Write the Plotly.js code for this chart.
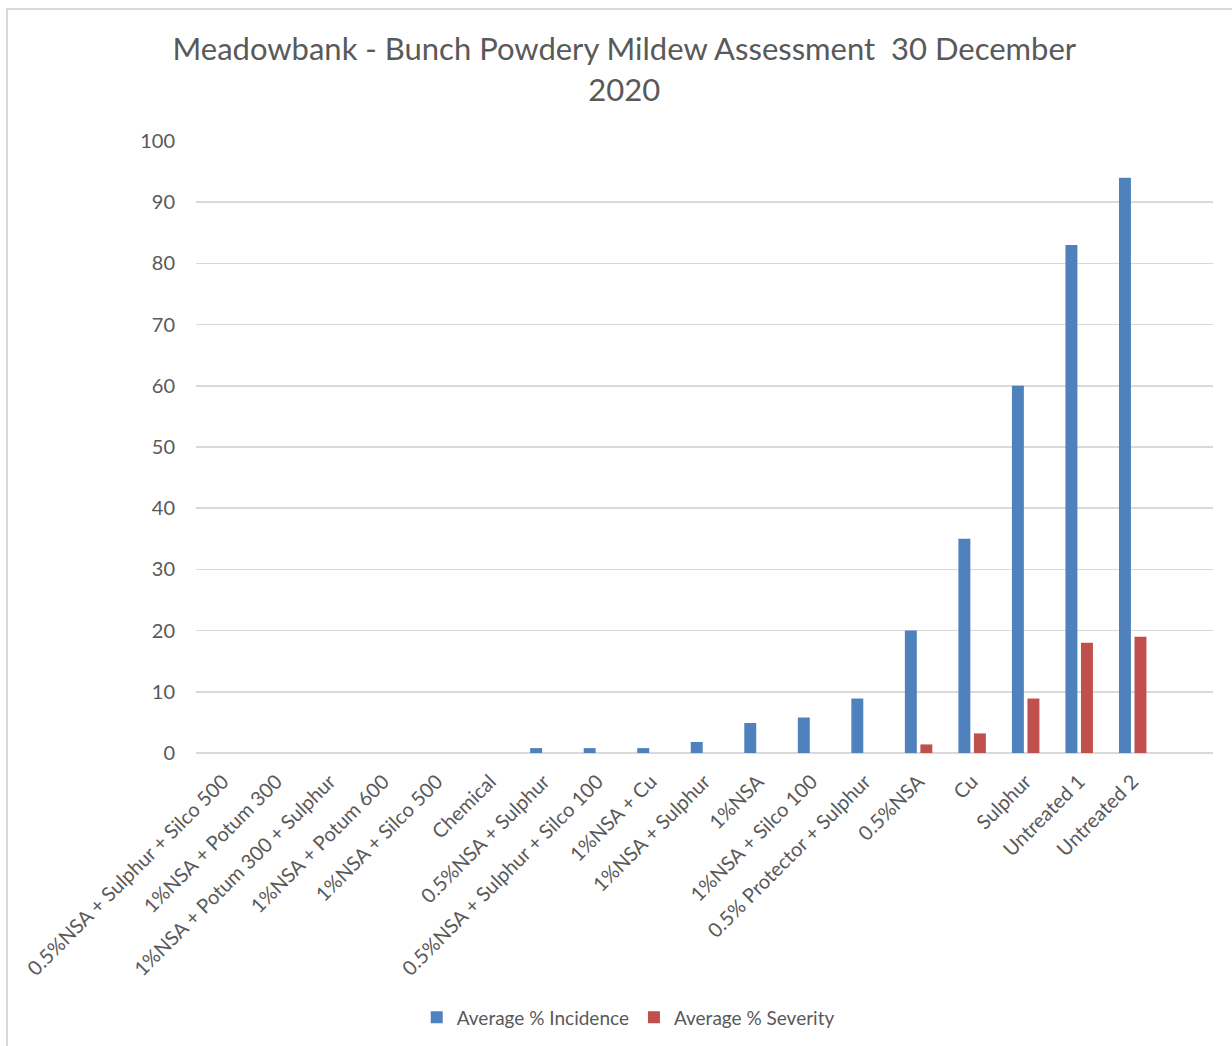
<!DOCTYPE html>
<html>
<head>
<meta charset="utf-8">
<script src="https://cdn.plot.ly/plotly-3.0.1.min.js"></script>
<style>
  html, body { margin: 0; padding: 0; background: #ffffff; overflow: hidden; width: 1232px; height: 1046px; }
  #chart { position: absolute; left: 6px; top: 8px; width: 1240px; height: 1050px; border: 2px solid #d9d9d9; }
</style>
</head>
<body>
<div id="chart"></div>
<script>
const categories = [
  "0.5%NSA + Sulphur + Silco 500",
  "1%NSA + Potum 300",
  "1%NSA + Potum 300 + Sulphur",
  "1%NSA + Potum 600",
  "1%NSA + Silco 500",
  "Chemical",
  "0.5%NSA + Sulphur",
  "0.5%NSA + Sulphur + Silco 100",
  "1%NSA + Cu",
  "1%NSA + Sulphur",
  "1%NSA",
  "1%NSA + Silco 100",
  "0.5% Protector + Sulphur",
  "0.5%NSA",
  "Cu",
  "Sulphur",
  "Untreated 1",
  "Untreated 2"
];
const incidence = [0, 0, 0, 0, 0, 0, 0.8, 0.8, 0.8, 1.8, 4.9, 5.8, 8.9, 20, 35, 60, 83, 94];
const severity  = [0, 0, 0, 0, 0, 0, 0, 0, 0, 0, 0, 0, 0, 1.4, 3.2, 8.9, 18, 19];
const yTicks = [0, 10, 20, 30, 40, 50, 60, 70, 80, 90, 100];

const FONT = "Lato, 'Open Sans', sans-serif";
const GREY = "#595959";

const traces = [
  {
    type: "bar", name: "Average % Incidence", x: categories, y: incidence,
    marker: { color: "#4F81BD", line: { width: 0 } }
  },
  {
    type: "bar", name: "Average % Severity", x: categories, y: severity,
    marker: { color: "#C0504D", line: { width: 0 } }
  }
];

const layout = {
  width: 1240, height: 1050,
  paper_bgcolor: "#ffffff", plot_bgcolor: "#ffffff",
  margin: { l: 188, r: 35, t: 131, b: 307, pad: 0 },
  font: { family: FONT, color: GREY, size: 19 },
  title: {
    text: "Meadowbank - Bunch Powdery Mildew Assessment  30 December<br>2020",
    font: { family: FONT, size: 31, color: GREY },
    x: 0.497, xref: "container", xanchor: "center",
    y: 0.952, yref: "container", yanchor: "top"
  },
  barmode: "group",
  bargap: 0.42,
  bargroupgap: 0.23,
  xaxis: {
    type: "category",
    range: [-0.5, 18.5],
    tickangle: -45,
    tickfont: { family: FONT, size: 20, color: GREY },
    ticklabelstandoff: 12,
    showgrid: false, showline: false, ticks: "",
    zeroline: false, fixedrange: true
  },
  yaxis: {
    range: [0, 100],
    tickvals: yTicks,
    ticktext: yTicks.map(String),
    tickfont: { family: FONT, size: 20, color: GREY },
    showgrid: true, gridcolor: "#d9d9d9", gridwidth: 1.5,
    zeroline: true, zerolinecolor: "#d9d9d9", zerolinewidth: 1.5,
    showline: false, ticks: "", ticklabelstandoff: 20,
    fixedrange: true
  },
  legend: {
    orientation: "h",
    x: 0.425, xanchor: "center",
    y: -0.432, yanchor: "middle",
    font: { family: FONT, size: 19, color: GREY },
    itemwidth: 30
  },
  showlegend: true
};

Plotly.newPlot("chart", traces, layout, { displayModeBar: false, staticPlot: true });
</script>
</body>
</html>
